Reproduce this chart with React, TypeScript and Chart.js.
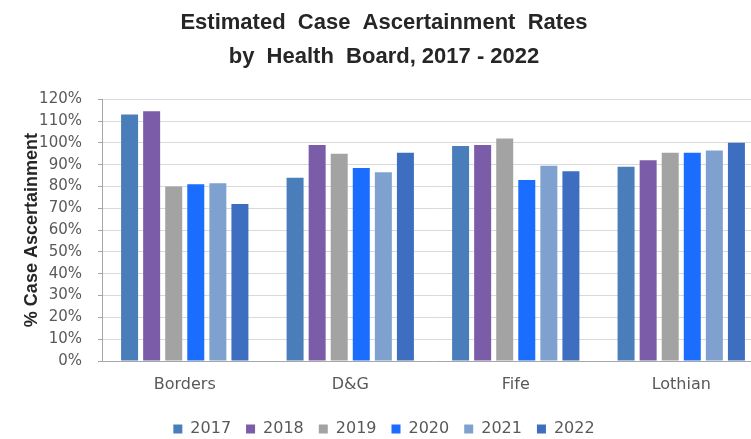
import React, { useEffect, useRef } from "react";
import { Chart, registerables } from "chart.js";

Chart.register(...registerables);

const categories = ["Borders", "D&G", "Fife", "Lothian"];
const years = ["2017", "2018", "2019", "2020", "2021", "2022"];
const v2017 = [113, 84, 98.5, 89];
const v2018 = [114.5, 99, 99, 92];
const v2019 = [80, 95, 102, 95.5];
const v2020 = [81, 88.5, 83, 95.5];
const v2021 = [81.5, 86.5, 89.5, 96.5];
const v2022 = [72, 95.5, 87, 100];
const yTicks = [0, 10, 20, 30, 40, 50, 60, 70, 80, 90, 100, 110, 120];

const seriesValues = [v2017, v2018, v2019, v2020, v2021, v2022];
const colors = ["#4a7ebb", "#7b5ca8", "#a3a3a3", "#1a6dff", "#7fa1d0", "#3e6ebf"];

const FONT = "'DejaVu Sans', Verdana, sans-serif";
const BOLD = "'Liberation Sans', Arial, sans-serif";

export default function App() {
  const ref = useRef<HTMLCanvasElement | null>(null);
  useEffect(() => {
    if (!ref.current) return;
    const chart = new Chart(ref.current, {
      type: "bar",
      data: {
        labels: categories,
        datasets: years.map((y, i) => ({
          label: y,
          data: seriesValues[i],
          backgroundColor: colors[i],
          borderWidth: 0,
          barPercentage: 0.77,
          categoryPercentage: 0.8,
        })),
      },
      options: {
        animation: false,
        responsive: true,
        maintainAspectRatio: false,
        layout: { padding: { left: 4, right: 4, top: 0, bottom: 0 } },
        plugins: {
          title: {
            display: true,
            text: ["Estimated  Case  Ascertainment  Rates", "by  Health  Board, 2017 - 2022"],
            color: "#262626",
            font: { family: BOLD, size: 22, weight: "bold", lineHeight: 1.55 },
            padding: { top: 6, bottom: 25 },
          },
          legend: {
            position: "bottom",
            labels: {
              boxWidth: 9,
              boxHeight: 9,
              color: "#595959",
              font: { family: FONT, size: 16 },
              padding: 15,
            },
          },
          tooltip: { enabled: false },
        },
        scales: {
          x: {
            grid: { display: false, drawTicks: false },
            border: { display: true, color: "#a6a6a6" },
            ticks: {
              color: "#595959",
              font: { family: FONT, size: 16 },
              padding: 14,
            },
            afterFit: (axis: any) => {
              axis.height = 45;
            },
          },
          y: {
            min: 0,
            max: 120,
            afterBuildTicks: (axis: any) => {
              axis.ticks = yTicks.map((v) => ({ value: v }));
            },
            afterFit: (axis: any) => {
              axis.width = 98;
            },
            grid: { color: "#d9d9d9", tickLength: 4, tickColor: "#a6a6a6" },
            border: { display: true, color: "#a6a6a6" },
            ticks: {
              color: "#595959",
              font: { family: FONT, size: 15 },
              padding: 16,
              callback: (v: any) => v + "%",
            },
            title: {
              display: true,
              text: "% Case Ascertainment",
              color: "#262626",
              font: { family: BOLD, size: 18, weight: "bold", lineHeight: 1 },
              padding: { top: 19, bottom: 0 },
            },
          },
        },
      },
    });
    return () => chart.destroy();
  }, []);
  return (
    <div style={{ position: "fixed", left: 0, top: 0, width: 768, height: 447, background: "#fff" }}>
      <canvas ref={ref} />
    </div>
  );
}
